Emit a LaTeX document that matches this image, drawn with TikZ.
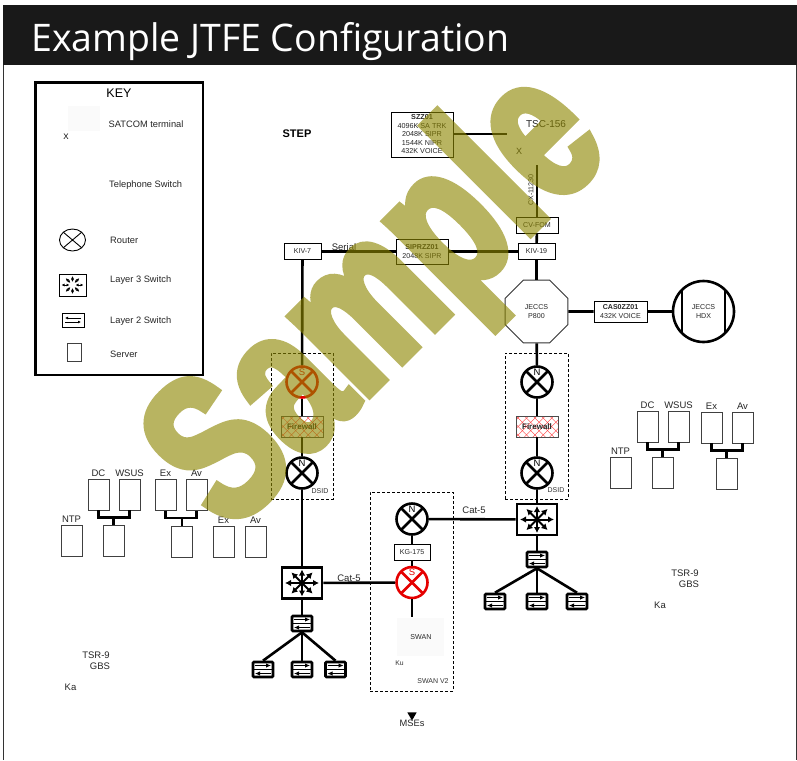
\documentclass[tikz,border=0pt]{standalone}
\usepackage{fontspec}
\setmainfont{Liberation Sans}
\newfontfamily\titlefont[FakeStretch=.985]{Open Sans}
\newfontfamily\stampfont[FakeBold=4,FakeStretch=.71,LetterSpace=1]{Liberation Sans Bold}
\usetikzlibrary{arrows.meta,calc,positioning,shapes.geometric}

\tikzset{
  link/.style={line width=2.6pt},
  tiny/.style={font=\fontsize{7}{9}\selectfont,text=black!80},
  small/.style={font=\fontsize{7.1}{8.2}\selectfont,text=black!85},
  keytext/.style={font=\fontsize{9.3}{10}\selectfont,anchor=west,inner sep=0pt,text=black!85},
  srvtext/.style={font=\fontsize{9.5}{11}\selectfont,text=black!85,inner sep=0pt},
  infobox/.style={draw,line width=.8pt,fill=white,small,align=center,inner sep=0pt},
  dashedbox/.style={draw,densely dashed,line width=.7pt},
  server/.style={draw=black!75,line width=.9pt,fill=white,minimum width=21pt,minimum height=31pt,inner sep=0pt,
    label={[srvtext,yshift=2pt]above:#1}},
  server/.default={},
  router/.style={circle,draw=#1,fill=white,line width=2.6pt,minimum size=31pt,inner sep=0pt,
    path picture={
      \draw[#1,line width=2.6pt] (path picture bounding box.north west) -- (path picture bounding box.south east);
      \draw[#1,line width=2.6pt] (path picture bounding box.north east) -- (path picture bounding box.south west);}},
  routertag/.style={font=\fontsize{9.5}{10}\selectfont,inner sep=0pt,yshift=10pt},
  firewall/.style={draw=black!70,line width=.7pt,fill=white,minimum width=42pt,minimum height=21pt,inner sep=0pt,
    font=\fontsize{8}{9}\selectfont\bfseries,text=black!85,
    path picture={
      \foreach \k in {-4,...,8} {
        \draw[red!80,line width=.35pt] ($(path picture bounding box.south west)+(\k*8.4,0)$) -- ++(21,-21);
        \draw[red!80,line width=.35pt] ($(path picture bounding box.north west)+(\k*8.4,0)$) -- ++(21,21);}}},
  layerthree/.style={draw,line width=2.8pt,fill=white,minimum width=40pt,minimum height=31pt,inner sep=0pt,
    path picture={
      \foreach \a/\r in {0/17,45/15,90/13.5,135/15,180/17,225/15,270/13.5,315/15}
        \draw[line width=2pt,-{Latex[length=6pt,width=6.5pt]}] (path picture bounding box.center) -- ++(\a:\r);}},
  layerthreekey/.style={draw,line width=.9pt,fill=white,minimum width=27pt,minimum height=22pt,inner sep=0pt,
    path picture={
      \foreach \a/\r in {0/11,45/9.5,90/9,135/9.5,180/11,225/9.5,270/9,315/9.5}
        \draw[line width=.9pt,{Latex[length=3pt,width=3pt]}-{Latex[length=3pt,width=3pt]}] ($(path picture bounding box.center)+(\a:3)$) -- ++(\a:\r-3);}},
  layertwo/.style={draw,line width=2.6pt,rounded corners=1pt,fill=white,minimum width=20pt,minimum height=15pt,inner sep=0pt,
    path picture={
      \draw[line width=1.8pt] (path picture bounding box.west) -- (path picture bounding box.east);
      \draw[line width=.9pt,-{Latex[length=5pt,width=4.5pt]}] ($(path picture bounding box.center)+(-8,-4)$) -- ++(16,0);
      \draw[line width=.9pt,-{Latex[length=5pt,width=4.5pt]}] ($(path picture bounding box.center)+(8,4)$) -- ++(-16,0);}},
  layertwokey/.style={draw,line width=.9pt,fill=white,minimum width=22pt,minimum height=14pt,inner sep=0pt,
    path picture={
      \draw[line width=.9pt,-{Latex[length=3pt,width=3pt]}] ($(path picture bounding box.center)+(8,-2)$) -- ++(-16,0);
      \draw[line width=.9pt,-{Latex[length=3pt,width=3pt]}] ($(path picture bounding box.center)+(-8,2)$) -- ++(16,0);}},
}

\begin{document}
\begin{tikzpicture}[x=1pt,y=-1pt]
    \useasboundingbox (0,0) rectangle (797,760);
    \fill[white] (0,0) rectangle (797,760);
    % Frame and title bar
    \draw[black!80,line width=1pt] (3.5,60) -- (3.5,760) (796.5,60) -- (796.5,760);
    \fill[black!90] (3,5) rectangle (797,64.5);
    \node[white,font=\titlefont\fontsize{38}{44}\selectfont,anchor=base west,inner sep=0pt] (title) at (31,52) {Example JTFE Configuration};

    % Key
    \draw[line width=2.5pt] (35.5,82.5) rectangle (203,375);
    \fill[black!2] (68,106) rectangle (100,131);
    \node[font=\fontsize{12.5}{14}\selectfont,inner sep=0pt] (keytitle) at (119,93.5) {KEY};
    \node[font=\fontsize{8}{9}\selectfont,inner sep=0pt] (keyx) at (66,137) {X};
    \node[keytext] (keysat) at (108.5,124) {SATCOM terminal};
    \node[keytext] (keytel) at (109,185) {Telephone Switch};
    \node[keytext] (keyrou) at (110,240) {Router};
    \node[keytext] (keylth) at (110,280) {Layer 3 Switch};
    \node[keytext] (keyltw) at (110,321) {Layer 2 Switch};
    \node[keytext] (keysrv) at (110,354) {Server};
    \node[ellipse,draw,line width=.9pt,minimum width=26pt,minimum height=22pt,inner sep=0pt,
      path picture={\draw[line width=.9pt] (path picture bounding box.north west) -- (path picture bounding box.south east)
        (path picture bounding box.north east) -- (path picture bounding box.south west);}] (keyrouter) at (72.5,240) {};
    \node[layerthreekey] (keyl3) at (72.5,285) {};
    \node[layertwokey] (keyl2) at (73,320) {};
    \node[draw=black!75,line width=.8pt,minimum width=13.5pt,minimum height=17.5pt,inner sep=0pt] (keyserver) at (74.5,352.5) {};

    % Top of the site
    \node[font=\fontsize{11}{12}\selectfont\bfseries,inner sep=0pt] (step) at (297,134) {STEP};
    \node[infobox,minimum width=62pt,minimum height=45pt,font=\fontsize{7.2}{8.5}\selectfont] (szz) at (422,134.5)
      {\textbf{SZZ01}\\4096K SA TRK\\2048K SIPR\\1544K NIPR\\432K VOICE};
    \coordinate (tscfeed) at (507,134);
    \coordinate (tscdrop) at (537,165);
    \node[font=\fontsize{10}{12}\selectfont,inner sep=0pt,text=black!85] (tsc) at (546,124) {TSC-156};
    \node[font=\fontsize{9}{10}\selectfont,inner sep=0pt,text=black!85] (tscx) at (519,151) {X};
    \node[infobox,minimum width=42pt,minimum height=16pt] (cvfom) at (537,225) {CV-FOM};
    \node[infobox,minimum width=37pt,minimum height=15.5pt] (kivnineteen) at (536.5,251.5) {KIV-19};
    \node[infobox,minimum width=37pt,minimum height=15.5pt] (kivseven) at (302.5,251.5) {KIV-7};
    \node[infobox,minimum width=52pt,minimum height=25pt] (siprzz) at (422,251.5) {\textbf{SIPRZZ01}\\2048K SIPR};
    \node[regular polygon,regular polygon sides=8,draw=black!80,line width=.9pt,fill=white,minimum size=68pt,inner sep=0pt,small,align=center] (ptwo) at (536.5,311.5) {JECCS\\P800};
    \node[infobox,minimum width=53pt,minimum height=21pt] (caszz) at (620.5,311.5) {\textbf{CAS0ZZ01}\\432K VOICE};
    \node[circle,draw,line width=2.6pt,fill=white,minimum size=61pt,inner sep=0pt,small,align=center,
      path picture={\draw[line width=2.6pt] ($(path picture bounding box.center)+(-21.5,-40)$) -- ++(0,80)
        ($(path picture bounding box.center)+(21.5,-40)$) -- ++(0,80);}] (hdx) at (703.5,311.5) {JECCS\\HDX};
    \node[font=\fontsize{9.5}{11}\selectfont,inner sep=0pt,text=black!85] (serial) at (344,247) {Serial};
    \node[rotate=90,small,inner sep=0pt] (cxlabel) at (531,190) {CX-11230};

    % Dashed enclosures
    \node[dashedbox,minimum width=63pt,minimum height=146pt,inner sep=0pt] (dsidright) at (536.5,426) {};
    \node[dashedbox,minimum width=62pt,minimum height=146pt,inner sep=0pt] (dsidleft) at (302,426) {};
    \node[dashedbox,minimum width=83pt,minimum height=199pt,inner sep=0pt] (swanbox) at (411.5,591.5) {};

    % Right chain
    \node[router=black,label={[routertag]center:N}] (nupright) at (537,382) {};
    \node[firewall] (fwright) at (537,426.5) {Firewall};
    \node[router=black,label={[routertag]center:N}] (nlowright) at (537,473) {};
    \node[layerthree] (lthreeright) at (537,519.5) {};
    \node[layertwo] (ltworight) at (537,559.5) {};
    \node[layertwo] (subrighta) at (495,601.5) {};
    \node[layertwo] (subrightb) at (537,601.5) {};
    \node[layertwo] (subrightc) at (577,601.5) {};
    \node[tiny,inner sep=0pt] (dsidtagright) at (556,490.5) {DSID};

    % Left chain
    \node[router=red!90!black,label={[routertag,red!90!black]center:S}] (supleft) at (302,382) {};
    \node[firewall] (fwleft) at (302,426.5) {Firewall};
    \node[router=black,label={[routertag]center:N}] (nlowleft) at (302,473) {};
    \node[layerthree] (lthreeleft) at (302,583) {};
    \node[layertwo] (ltwoleft) at (302,623.5) {};
    \node[layertwo] (subleftb) at (263,669.5) {};
    \node[layertwo] (subleftc) at (302,669.5) {};
    \node[layertwo] (subleftd) at (335.5,669.5) {};
    \node[tiny,inner sep=0pt] (dsidtagleft) at (320,491) {DSID};

    % SWAN
    \node[router=black,label={[routertag]center:N}] (nswan) at (412,519) {};
    \node[infobox,minimum width=36pt,minimum height=16pt] (kgone) at (412,552) {KG-175};
    \node[router=red!90!black,label={[routertag,red!90!black]center:S}] (sswan) at (412,582.5) {};
    \fill[black!2] (397,618) rectangle (444,656);
    \coordinate (swandrop) at (412,617);
    \node[small,inner sep=0pt] (swantext) at (421,637) {SWAN};
    \node[font=\fontsize{6.8}{8}\selectfont,text=black!80,inner sep=0pt] (kutext) at (399.5,663.5) {Ku};
    \node[tiny,inner sep=0pt] (swanvtwo) at (433,681) {SWAN V2};
    \node[isosceles triangle,isosceles triangle apex angle=60,shape border rotate=-90,fill=black,minimum size=0pt,inner sep=2.2pt] (msearrow) at (412,714.5) {};
    \node[font=\fontsize{9.3}{10}\selectfont,text=black!85,inner sep=0pt] (mses) at (412,723.5) {MSEs};
    \node[srvtext] (catleft) at (349,578) {Cat-5};
    \node[srvtext] (catright) at (474,510) {Cat-5};

    % Servers on the right
    \node[server=DC] (dcright) at (647.5,426.5) {};
    \node[server=WSUS] (wsusright) at (678.5,426.5) {};
    \node[server=Ex] (exright) at (711.5,427.5) {};
    \node[server=Av] (avright) at (742.5,427.5) {};
    \node[server=NTP] (ntpright) at (620.5,473) {};
    \node[server] (hubrighta) at (662.5,473) {};
    \node[server] (hubrightb) at (726.5,473.5) {};
    \node[srvtext] (tsrright) at (685,573) {TSR-9};
    \node[srvtext] (gbsright) at (689,584) {GBS};
    \node[srvtext] (karight) at (660,605) {Ka};

    % Servers on the left
    \node[server=DC] (dcleft) at (98.5,494.5) {};
    \node[server=WSUS] (wsusleft) at (129.5,494.5) {};
    \node[server=Ex] (exleft) at (165.5,495) {};
    \node[server=Av] (avleft) at (196.5,495) {};
    \node[server=NTP] (ntpleft) at (71.5,541) {};
    \node[server] (hublefta) at (113.5,541) {};
    \node[server] (hubleftb) at (182,541.5) {};
    \node[server=Ex] (extwoleft) at (223.5,541.5) {};
    \node[server=Av] (avtwoleft) at (255.5,541.5) {};
    \node[srvtext] (tsrleft) at (96,655) {TSR-9};
    \node[srvtext] (gbsleft) at (100,666) {GBS};
    \node[srvtext] (kaleft) at (70.5,687) {Ka};

    % Connectors
    \draw[link] (szz.east |- tscfeed) -- (tscfeed);
    \draw[link] (tscdrop) -- (cvfom.north);
    \draw[link] (cvfom) -- (kivnineteen);
    \draw[link] (kivseven) -- (siprzz);
    \draw[link] (siprzz) -- (kivnineteen);
    \draw[link] (kivnineteen) -- (ptwo);
    \draw[link] (ptwo) -- (caszz);
    \draw[link] (caszz) -- (hdx);
    \draw[link] (ptwo) -- (nupright);
    \draw[link] (nupright) -- (fwright);
    \draw[link] (fwright) -- (nlowright);
    \draw[link] (nlowright) -- (lthreeright);
    \draw[link] (lthreeright) -- (ltworight);
    \draw[link] (ltworight.south) -- (subrighta.north);
    \draw[link] (ltworight.south) -- (subrightb.north);
    \draw[link] (ltworight.south) -- (subrightc.north);
    \draw[link] (kivseven) -- (supleft);
    \draw[link] (supleft) -- (fwleft);
    \draw[link] (fwleft) -- (nlowleft);
    \draw[link] (nlowleft) -- (lthreeleft);
    \draw[link] (lthreeleft) -- (ltwoleft);
    \draw[link] (ltwoleft.south) -- (subleftb.north);
    \draw[link] (ltwoleft.south) -- (subleftc.north);
    \draw[link] (ltwoleft.south) -- (subleftd.north);
    \draw[link] (nswan) -- (kgone);
    \draw[link] (kgone) -- (sswan);
    \draw[link] (sswan) -- (swandrop);
    \draw[link] (nswan) -- (lthreeright);
    \draw[link] (sswan) -- (lthreeleft);
    \draw[link] (dcright.south) -- ++(0,7) -| (wsusright.south);
    \draw[link] (hubrighta.north) -- ++(0,-8);
    \draw[link] (exright.south) -- ++(0,7) -| (avright.south);
    \draw[link] (hubrightb.north) -- ++(0,-8);
    \draw[link] (dcleft.south) -- ++(0,7) -| (wsusleft.south);
    \draw[link] (hublefta.north) -- ++(0,-8);
    \draw[link] (exleft.south) -- ++(0,7) -| (avleft.south);
    \draw[link] (hubleftb.north) -- ++(0,-8);

    % Watermark goes on last, over everything
    \begin{scope}[transparency group,opacity=.62]
      \node[rotate=45,text=olive,font=\stampfont\fontsize{210}{210}\selectfont,inner sep=0pt] (stamp) at (383,304) {Sample};
    \end{scope}
  \end{tikzpicture}
\end{document}
